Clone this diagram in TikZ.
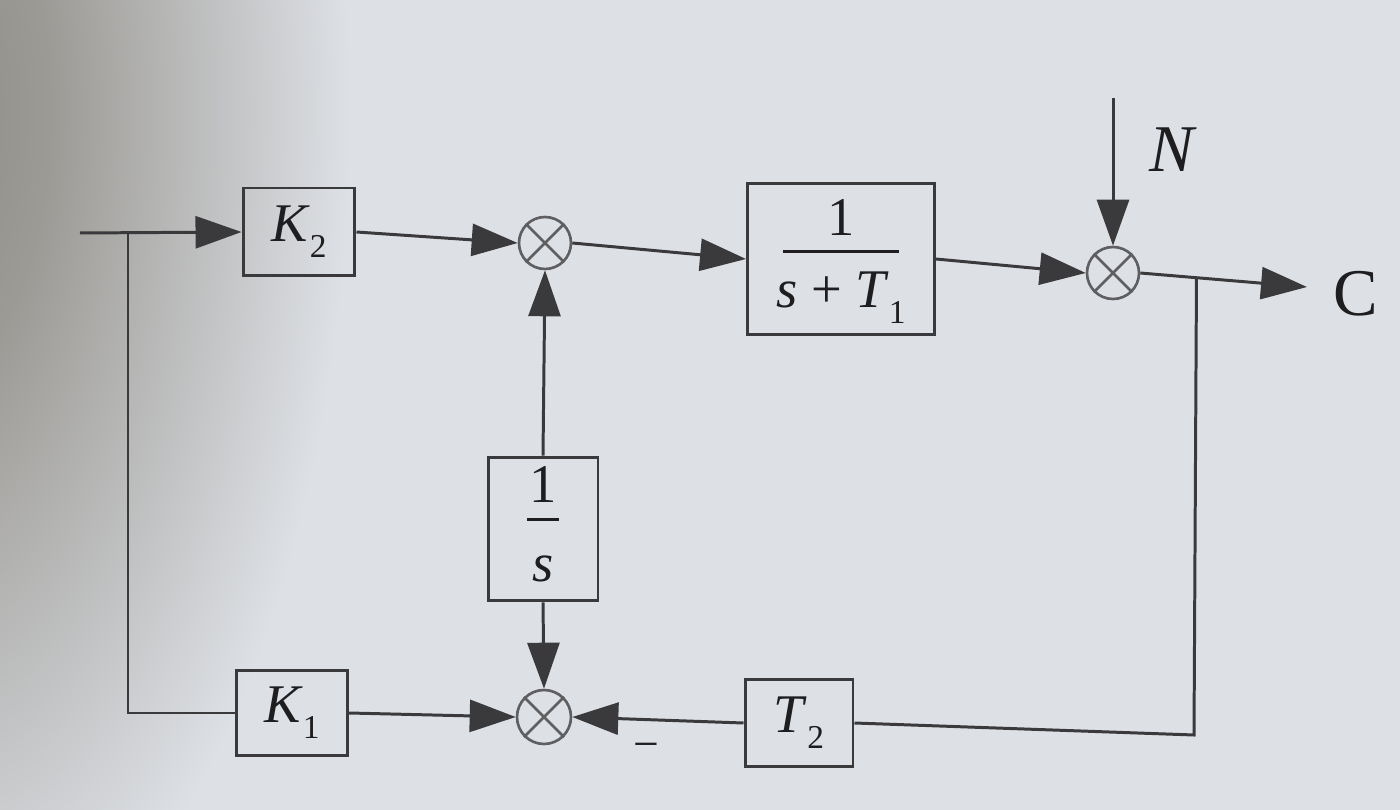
\documentclass[tikz,border=0pt]{standalone}
\usepackage{fontspec}
\setmainfont{Liberation Serif}
\usetikzlibrary{arrows.meta,calc}
\definecolor{paper}{RGB}{221,224,229}
\definecolor{shadowc}{RGB}{140,137,130}
\definecolor{ink}{RGB}{58,58,60}
\definecolor{ringc}{RGB}{95,95,98}
\definecolor{txt}{RGB}{30,30,32}
\pgfdeclareradialshading{papershadow}{\pgfpoint{0bp}{0bp}}{%
  color(0bp)=(shadowc); color(8bp)=(shadowc!80!paper); color(25bp)=(paper); color(50bp)=(paper)}
\newcommand\sbs[1]{\raisebox{-9pt}{\fontsize{19}{19}\selectfont #1}}
\newcommand\fracbox[5]{%
  \begin{tabular}{@{}c@{}}#2\\\noalign{\vskip#4}\rule{#1}{1.7pt}\\\noalign{\vskip#5}#3\end{tabular}}
\tikzset{
  blk/.style={draw=ink, line width=1.7pt, rectangle, inner sep=0pt, text=txt,
    font=\fontsize{31}{36}\selectfont},
  sumj/.style={draw=ringc, line width=1.5pt, circle, inner sep=0pt, minimum size=1.04cm},
  wire/.style={draw=ink, line width=1.7pt},
  arr/.style={wire, -{Triangle[length=0.92cm,width=0.64cm]}},
  lab/.style={text=txt, inner sep=0pt},
}
\begin{document}
\begin{tikzpicture}[x=0.02cm,y=-0.02cm]
\useasboundingbox (0,0) rectangle (1400,810);
\fill[paper] (0,0) rectangle (1400,810);
\begin{scope}
  \clip (0,0) rectangle (1400,810);
  \shade[shading=papershadow] (-90,110) ellipse [x radius=440, y radius=900];
\end{scope}

% nodes
\coordinate (in) at (80,233);
\coordinate (br1) at (128,233);
\coordinate (corner1) at (128,713);
\node[blk, minimum width=2.24cm, minimum height=1.76cm] (K2) at (299,232) {\textit{K}\sbs{2}};
\node[sumj] (s1) at (545,243) {};
\node[blk, minimum width=3.74cm, minimum height=3.04cm] (G) at (841,259)
  {\fracbox{2.34cm}{1}{\textit{s} + \textit{T}\sbs{1}}{-26pt}{-5pt}};
\node[sumj] (s2) at (1113,273) {};
\coordinate (Ntop) at (1113,98);
\node[lab, font=\fontsize{38}{40}\selectfont] (Nlab) at (1173,150) {\textit{N}};
\coordinate (out) at (1307,287);
\node[lab, font=\fontsize{38}{40}\selectfont] (Clab) at (1356,294) {C};
\node[blk, minimum width=2.2cm, minimum height=2.88cm] (B) at (543,529)
  {\fracbox{0.64cm}{1}{\textit{s}}{-25pt}{-2pt}};
\node[sumj, minimum size=1.08cm] (s3) at (544,717) {};
\node[blk, minimum width=2.22cm, minimum height=1.7cm] (K1) at (292,713) {\textit{K}\sbs{1}};
\node[blk, minimum width=2.16cm, minimum height=1.74cm] (T2) at (799,723) {\textit{T}\sbs{2}};
\coordinate (br2) at ($(s2.east)!0.337!(out)$);
\coordinate (corner2) at (1194,735);
\node[lab, font=\fontsize{26}{28}\selectfont] (minus) at (646,751) {−};

% crosses in summing junctions
\foreach \s in {s1,s2,s3}{
  \draw[ringc, line width=1.5pt] (\s.north west) -- (\s.south east) (\s.north east) -- (\s.south west);
}

% connectors
\draw[arr] (in) -- (K2.west);
\draw[wire] (br1) -- (corner1) -- (K1.west);
\draw[arr] (K2.east) -- (s1.west);
\draw[arr] (s1.east) -- (G.west);
\draw[arr] (G.east) -- (s2.west);
\draw[arr] (Ntop) -- (s2.north);
\draw[arr] (s2.east) -- (out);
\draw[wire] (br2) -- (corner2) -- (T2.east);
\draw[arr] (T2.west) -- (s3.east);
\draw[arr] (K1.east) -- (s3.west);
\draw[arr] (B.north) -- (s1.south);
\draw[arr] (B.south) -- (s3.north);
\end{tikzpicture}
\end{document}
